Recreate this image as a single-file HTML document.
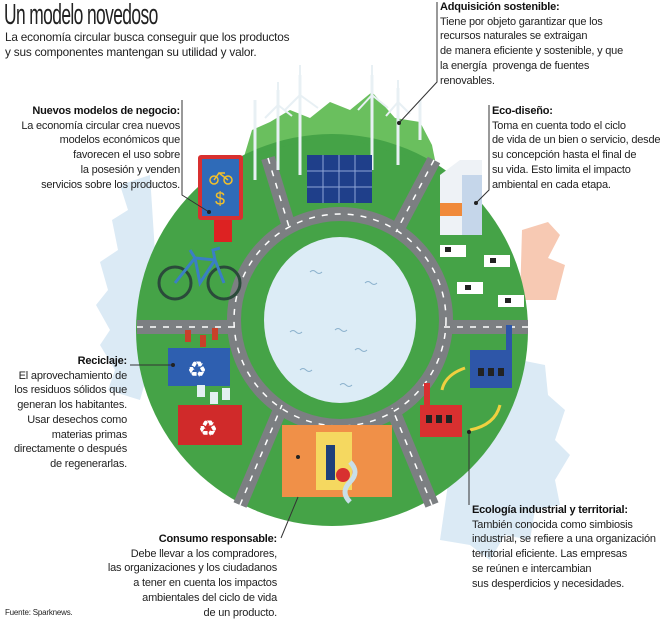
<!DOCTYPE html>
<html><head><meta charset="utf-8"><style>
body{margin:0;width:667px;height:620px;background:#fff;position:relative;overflow:hidden;font-family:"Liberation Sans",sans-serif;color:#222}
.t{position:absolute;font-size:11px;line-height:14.7px;white-space:nowrap;letter-spacing:-0.2px}
.r{text-align:right}
b{font-weight:bold;color:#111}
svg{position:absolute;left:0;top:0}
</style></head><body>
<svg width="667" height="620" viewBox="0 0 667 620">
<path d="M150 175 L120 185 L128 210 L112 220 L118 250 L100 262 L108 290 L96 305 L110 330 L100 345 L115 370 L108 390 L140 400 L160 330 Z" fill="#dbeaf5"/>
<path d="M470 330 L510 335 L520 360 L545 365 L548 395 L565 410 L555 440 L570 455 L555 480 L560 505 L535 510 L530 540 L505 535 L490 560 L470 545 L440 540 Z" fill="#dbeaf5"/>
<path d="M522 230 L548 222 L560 235 L548 258 L565 265 L556 300 L520 300 Z" fill="#f7c9b3"/>
<path d="M240 170 L252 130 L270 122 L290 110 L310 118 L330 102 L350 110 L372 92 L395 118 L420 122 L432 145 L438 175 Z" fill="#6abf5e"/>
<circle cx="332" cy="330" r="196" fill="#45a347"/>
<path d="M250 155 L332 134 L420 160 L420 220 L250 220Z" fill="#45a347"/>
<g stroke="#7c7f82" stroke-width="14" fill="none">
<line x1="268" y1="158" x2="290" y2="230"/>
<line x1="434" y1="160" x2="396" y2="232"/>
<line x1="137" y1="327" x2="236" y2="327"/>
<line x1="444" y1="327" x2="528" y2="327"/>
<line x1="240" y1="505" x2="282" y2="405"/>
<line x1="432" y1="505" x2="392" y2="408"/>
<circle cx="340" cy="320" r="106"/>
</g>
<g stroke="#fff" stroke-width="1.5" stroke-dasharray="6 7" fill="none">
<line x1="268" y1="158" x2="290" y2="230"/>
<line x1="434" y1="160" x2="396" y2="232"/>
<line x1="137" y1="327" x2="236" y2="327"/>
<line x1="444" y1="327" x2="528" y2="327"/>
<line x1="240" y1="505" x2="282" y2="405"/>
<line x1="432" y1="505" x2="392" y2="408"/>
<circle cx="340" cy="320" r="106"/>
</g>
<circle cx="340" cy="320" r="98" fill="#45a347"/>
<ellipse cx="340" cy="320" rx="76" ry="83" fill="#dcecf6"/>
<g stroke="#8ab0cc" stroke-width="1" fill="none">
<path d="M310 272 q3-3 6 0 t6 0"/><path d="M365 283 q3-3 6 0 t6 0"/><path d="M290 332 q3-3 6 0 t6 0"/><path d="M335 330 q3-3 6 0 t6 0"/><path d="M355 350 q3-3 6 0 t6 0"/><path d="M300 370 q3-3 6 0 t6 0"/><path d="M340 385 q3-3 6 0 t6 0"/>
</g>
<g stroke="#e8f0f4" stroke-width="3">
<line x1="255" y1="180" x2="255" y2="100"/><line x1="278" y1="170" x2="278" y2="90"/><line x1="300" y1="175" x2="300" y2="75"/>
<line x1="372" y1="170" x2="372" y2="75"/><line x1="398" y1="165" x2="398" y2="88"/><line x1="420" y1="140" x2="420" y2="100"/>
</g>
<g stroke="#e8f0f4" stroke-width="2">
<path d="M300 95 L300 65 M300 95 L285 110 M300 95 L318 108"/><path d="M372 95 L372 65 M372 95 L358 110 M372 95 L388 108"/>
<path d="M278 105 L265 118 M278 105 L292 116 M278 105 L278 82"/><path d="M398 102 L386 116 M398 102 L410 114 M398 102 L398 80"/>
</g>
<rect x="307" y="155" width="65" height="48" fill="#1f3f8a"/>
<g stroke="#8fa6d6" stroke-width="1"><line x1="323" y1="155" x2="323" y2="203"/><line x1="339" y1="155" x2="339" y2="203"/><line x1="355" y1="155" x2="355" y2="203"/><line x1="307" y1="171" x2="372" y2="171"/><line x1="307" y1="187" x2="372" y2="187"/></g>
<rect x="214" y="218" width="18" height="24" fill="#d22"/>
<rect x="198" y="155" width="45" height="65" rx="3" fill="#d83030"/>
<rect x="202" y="159" width="37" height="57" fill="#2f6bb8"/>
<text x="220" y="205" fill="#f3c02a" font-size="18" text-anchor="middle" font-family="Liberation Sans">$</text>
<g stroke="#f3c02a" stroke-width="1.5" fill="none"><circle cx="214" cy="180" r="4"/><circle cx="228" cy="180" r="4"/><path d="M214 180 L219 173 L228 180 M219 173 L225 173"/></g>
<g stroke="#2a4a3a" stroke-width="3" fill="none"><circle cx="175" cy="283" r="16"/><circle cx="224" cy="283" r="16"/></g>
<g stroke="#3a7fc4" stroke-width="3" fill="none"><path d="M175 283 L195 258 L215 260 L224 283 M195 258 L200 283 L215 260 M195 258 L190 250 M215 260 L213 250 L220 248"/></g>
<polygon points="440,175 460,160 482,160 482,235 440,235" fill="#eef2f6"/>
<rect x="440" y="203" width="22" height="13" fill="#f08a3a"/>
<rect x="462" y="175" width="20" height="60" fill="#c5d6ea"/>
<g fill="#fff"><rect x="440" y="245" width="26" height="12"/><rect x="484" y="255" width="26" height="12"/><rect x="457" y="282" width="26" height="12"/><rect x="498" y="295" width="26" height="12"/></g>
<g fill="#222"><rect x="445" y="247" width="6" height="5"/><rect x="490" y="258" width="6" height="5"/><rect x="465" y="285" width="6" height="5"/><rect x="505" y="298" width="6" height="5"/></g>
<rect x="470" y="350" width="42" height="38" fill="#2e56a8"/><rect x="506" y="325" width="6" height="30" fill="#2e56a8"/>
<rect x="420" y="405" width="42" height="32" fill="#d83030"/><rect x="424" y="383" width="6" height="25" fill="#d83030"/>
<g fill="#222"><rect x="478" y="368" width="6" height="8"/><rect x="488" y="368" width="6" height="8"/><rect x="498" y="368" width="6" height="8"/><rect x="426" y="415" width="6" height="8"/><rect x="436" y="415" width="6" height="8"/><rect x="446" y="415" width="6" height="8"/></g>
<g stroke="#f0d040" stroke-width="3" fill="none"><path d="M465 368 Q445 375 442 390"/><path d="M470 430 Q495 425 500 405"/></g>
<rect x="168" y="348" width="62" height="38" fill="#2e5fb0"/>
<rect x="178" y="405" width="64" height="40" fill="#d02a2a"/>
<text x="197" y="377" fill="#fff" font-size="22" text-anchor="middle">♻</text>
<text x="208" y="436" fill="#fff" font-size="22" text-anchor="middle">♻</text>
<g fill="#c8402a"><rect x="185" y="330" width="6" height="12"/><rect x="200" y="335" width="6" height="12"/><rect x="212" y="328" width="6" height="12"/></g>
<g fill="#e3f0f2"><rect x="197" y="385" width="8" height="12"/><rect x="210" y="392" width="8" height="12"/><rect x="222" y="388" width="8" height="12"/></g>
<rect x="282" y="425" width="110" height="72" fill="#f09048"/>
<rect x="316" y="432" width="36" height="58" fill="#f5d860"/>
<rect x="326" y="445" width="9" height="35" fill="#1f3f7a"/>
<circle cx="343" cy="475" r="7" fill="#d83030"/>
<path d="M350 462 q10 10 0 20 q-10 10 0 20" stroke="#c9dfe8" stroke-width="5" fill="none"/>
<g stroke="#333" stroke-width="1" fill="none">
<polyline points="437,2 437,82 399,123"/>
<polyline points="182,100 182,195 209,212"/>
<polyline points="489,105 489,190 476,203"/>
<line x1="130" y1="365" x2="173" y2="365"/>
<line x1="281" y1="538" x2="298" y2="497"/>
<line x1="469" y1="505" x2="469" y2="432"/>
</g>
<g fill="#222"><circle cx="399" cy="123" r="2"/><circle cx="209" cy="212" r="2"/><circle cx="476" cy="203" r="2"/><circle cx="173" cy="365" r="2"/><circle cx="298" cy="457" r="2"/><circle cx="469" cy="432" r="2"/></g>
</svg>
<div class="t" style="left:4px;top:-1px;font-size:29px;line-height:32px;transform:scaleX(0.6);transform-origin:0 0;letter-spacing:-1px">Un modelo novedoso</div>
<div class="t" style="left:5px;top:30px;font-size:11.8px">La economía circular busca conseguir que los productos<br>y sus componentes mantengan su utilidad y valor.</div>
<div class="t" style="left:440px;top:0"><b>Adquisición sostenible:</b><br>Tiene por objeto garantizar que los<br>recursos naturales se extraigan<br>de manera eficiente y sostenible, y que<br>la energía &nbsp;provenga de fuentes<br>renovables.</div>
<div class="t r" style="right:487px;top:104px"><b>Nuevos modelos de negocio:</b><br>La economía circular crea nuevos<br>modelos económicos que<br>favorecen el uso sobre<br>la posesión y venden<br>servicios sobre los productos.</div>
<div class="t" style="left:492px;top:104px"><b>Eco-diseño:</b><br>Toma en cuenta todo el ciclo<br>de vida de un bien o servicio, desde<br>su concepción hasta el final de<br>su vida. Esto limita el impacto<br>ambiental en cada etapa.</div>
<div class="t r" style="right:540px;top:354px"><b>Reciclaje:</b><br>El aprovechamiento de<br>los residuos sólidos que<br>generan los habitantes.<br>Usar desechos como<br>materias primas<br>directamente o después<br>de regenerarlas.</div>
<div class="t r" style="right:390px;top:532px"><b>Consumo responsable:</b><br>Debe llevar a los compradores,<br>las organizaciones y los ciudadanos<br>a tener en cuenta los impactos<br>ambientales del ciclo de vida<br>de un producto.</div>
<div class="t" style="left:472px;top:503px"><b>Ecología industrial y territorial:</b><br>También conocida como simbiosis<br>industrial, se refiere a una organización<br>territorial eficiente. Las empresas<br>se reúnen e intercambian<br>sus desperdicios y necesidades.</div>
<div class="t" style="left:5px;top:608px;font-size:8px;line-height:10px">Fuente: Sparknews.</div>
</body></html>
